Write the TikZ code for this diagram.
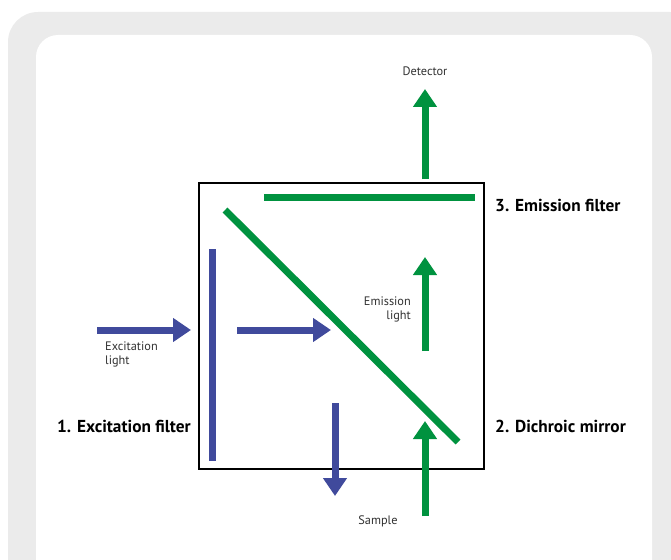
\documentclass[tikz,border=0pt]{standalone}
\usepackage{fontspec}
\setmainfont{PT Sans}
\usetikzlibrary{arrows.meta}
\definecolor{exblue}{RGB}{64,74,156}
\definecolor{emgreen}{RGB}{0,146,63}
\definecolor{panelgray}{RGB}{235,235,235}
\definecolor{labelgray}{RGB}{50,50,50}
\tikzset{
  barline/.style={line width=7pt},
  bluearrow/.style={exblue,line width=7pt,-{Triangle[length=18pt,width=23pt]}},
  greenarrow/.style={emgreen,line width=7pt,-{Triangle[length=18pt,width=23pt]}},
  smalllabel/.style={font=\fontsize{12.3}{14}\selectfont,text=labelgray,inner sep=0pt,align=left},
  biglabel/.style={font=\fontsize{17.3}{20}\selectfont\bfseries,text=black,inner sep=0pt}
}
\begin{document}
\begin{tikzpicture}[x=1pt,y=-1pt]
\useasboundingbox (0,0) rectangle (671,559);
\clip (0,0) rectangle (671,559);
\fill[panelgray,rounded corners=30pt] (8,12) rectangle (700,620);
\fill[white,rounded corners=22pt] (36,35) rectangle (652,590);
% box
\draw[black,line width=1.3pt] (199,183) rectangle (484,469);
% filters and mirror
\coordinate (fa) at (212,249); \coordinate (fb) at (212,461);
\draw[barline,exblue] (fa) -- (fb);
\coordinate (ma) at (225,210); \coordinate (mb) at (458,442);
\draw[barline,emgreen] (ma) -- (mb);
\coordinate (ea) at (264,197); \coordinate (eb) at (475,197);
\draw[barline,emgreen] (ea) -- (eb);
% arrows
\coordinate (b1s) at (97,330); \coordinate (b1e) at (191,330);
\draw[bluearrow] (b1s) -- (b1e);
\coordinate (b2s) at (237,330); \coordinate (b2e) at (331,330);
\draw[bluearrow] (b2s) -- (b2e);
\coordinate (b3s) at (335,403); \coordinate (b3e) at (335,496);
\draw[bluearrow] (b3s) -- (b3e);
\coordinate (g1s) at (425,351); \coordinate (g1e) at (425,257);
\draw[greenarrow] (g1s) -- (g1e);
\coordinate (g2s) at (425,516); \coordinate (g2e) at (425,421);
\draw[greenarrow] (g2s) -- (g2e);
\coordinate (g3s) at (425,179); \coordinate (g3e) at (425,89);
\draw[greenarrow] (g3s) -- (g3e);
% labels
\node[smalllabel] (det) at (425,71) {Detector};
\node[smalllabel,anchor=north west] (exl) at (105,342) {Excitation\\light};
\node[smalllabel,anchor=north east,align=right] (eml) at (411,297) {Emission\\light};
\node[smalllabel] (smp) at (378,521) {Sample};
\node[biglabel,anchor=east] (l1) at (191,426) {1. Excitation filter};
\node[biglabel,anchor=west] (l2) at (495,426) {2. Dichroic mirror};
\node[biglabel,anchor=west] (l3) at (495,205) {3. Emission filter};
\end{tikzpicture}
\end{document}
